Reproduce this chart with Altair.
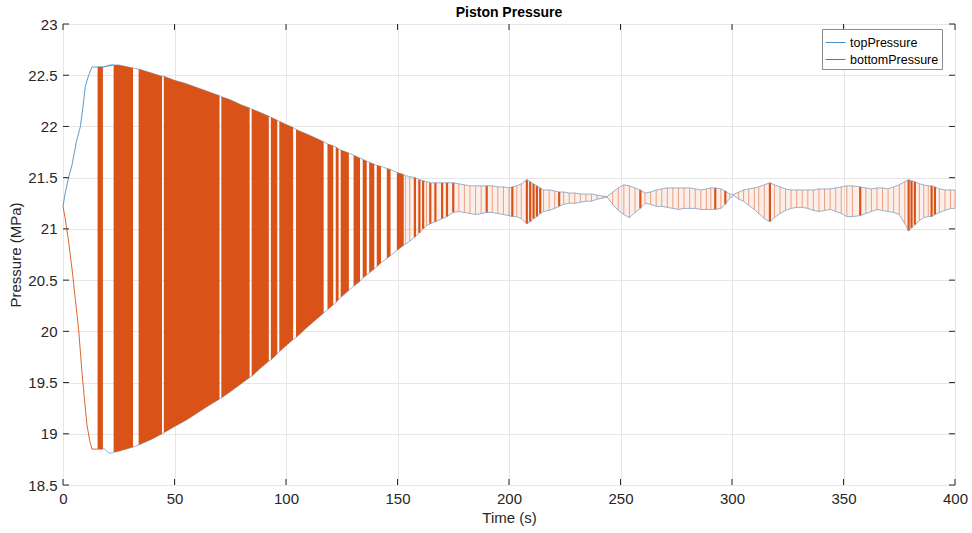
import altair as alt
import pandas as pd

FONT = "Liberation Sans"
BLUE = "#0072BD"
ORANGE = "#D95319"
EDGE = "#7f9fc4"
INK = "#262626"
W, H = 892, 461

title_text = "Piston Pressure"
x_title = "Time (s)"
y_title = "Pressure (MPa)"
series_names = ["topPressure", "bottomPressure"]
x_ticks = [0, 50, 100, 150, 200, 250, 300, 350, 400]
y_ticks = [18.5, 19, 19.5, 20, 20.5, 21, 21.5, 22, 22.5, 23]

# start-up transient (before the oscillation band)
top_init_t = [0, 1, 2.5, 4, 6, 7.8, 9, 10, 11.5, 13, 15.5, 18.2, 19.7, 21.2, 22.7]
top_init_v = [21.22, 21.35, 21.5, 21.62, 21.85, 22.0, 22.2, 22.39, 22.5, 22.58,
              22.58, 22.58, 22.59, 22.6, 22.6]
bot_init_t = [0, 1, 2.5, 4, 5.5, 7, 8.5, 10, 10.8, 12, 13, 15.5]
bot_init_v = [21.22, 21.1, 20.88, 20.62, 20.32, 20.02, 19.6, 19.25, 19.08, 18.93,
              18.85, 18.85]

# lower edge visible inside the first gap
dip_t = [18.2, 20.5, 22.0]
dip_lo = [18.86, 18.815, 18.81]

# dense oscillation blocks (segment id, time, upper, lower)
dense_seg = [1, 1, 2, 2, 2, 3, 3, 3, 4, 4, 4, 4, 4, 4, 5, 5, 5, 5, 6, 6, 6, 7, 7,
             8, 8, 8, 9, 9, 9, 10, 10, 11, 11, 12, 12, 13, 13, 14, 14, 15, 15,
             16, 16, 17, 17, 18, 18]
dense_t = [15.5, 17.9, 22.7, 25, 31.4, 33.9, 40, 44.4, 45.2, 50, 55, 60, 65, 70.2,
           71.0, 75, 80, 83.7, 84.6, 88, 92.3, 93.2, 96.1, 97.0, 100, 103.2,
           104.5, 110, 116.9, 118.6, 121.2, 122.3, 123.6, 124.5, 128.2, 130.3,
           133.2, 134.4, 136.2, 137.3, 139.6, 140.7, 142.6, 145.2, 146.9, 149.7,
           152.8]
dense_hi = [22.58, 22.58, 22.60, 22.60, 22.57, 22.56, 22.52, 22.49, 22.49, 22.45,
            22.42, 22.38, 22.34, 22.30, 22.29, 22.26, 22.21, 22.18, 22.17, 22.14,
            22.10, 22.09, 22.06, 22.05, 22.02, 21.99, 21.97, 21.92, 21.85, 21.83,
            21.81, 21.80, 21.78, 21.77, 21.74, 21.72, 21.69, 21.68, 21.66, 21.65,
            21.63, 21.62, 21.61, 21.59, 21.58, 21.55, 21.53]
dense_lo = [18.85, 18.85, 18.82, 18.83, 18.87, 18.89, 18.95, 19.00, 19.01, 19.07,
            19.13, 19.20, 19.27, 19.34, 19.35, 19.41, 19.49, 19.55, 19.56, 19.63,
            19.71, 19.72, 19.78, 19.80, 19.86, 19.92, 19.94, 20.05, 20.18, 20.21,
            20.26, 20.28, 20.31, 20.33, 20.40, 20.44, 20.49, 20.52, 20.55, 20.57,
            20.61, 20.63, 20.67, 20.71, 20.74, 20.79, 20.84]

# settled, sparse oscillation strokes
sp_t = [153.5, 155.5, 157.8, 159.8, 161.5, 163.0, 164.7, 167.0, 170.0, 172.2,
        175.0, 177.5, 180.0, 182.5, 185.0, 187.5, 190.0, 192.5, 195.0, 197.5,
        200.0, 201.5, 203.5, 205.5, 208.0, 209.5, 211.0, 212.5, 214.0, 215.5,
        218.0, 220.5, 222.5, 224.5, 227.0, 229.5, 232.0, 234.5, 237.0, 239.5,
        242.0, 244.0, 246.5, 249.0, 251.5, 254.0, 256.5, 258.9, 261.0, 263.5,
        266.0, 268.5, 271.0, 273.5, 276.0, 278.5, 281.0, 283.5, 286.0, 288.5,
        290.5, 292.5, 295.0, 297.0, 299.0, 300.8, 303.0, 305.2, 307.5, 310.0,
        312.0, 314.5, 317.0, 319.0, 321.5, 324.0, 326.5, 329.0, 331.5, 334.0,
        336.5, 339.0, 341.5, 344.0, 346.5, 349.0, 351.5, 354.0, 357.5, 360.0,
        362.5, 365.0, 367.5, 370.0, 372.5, 375.0, 377.5, 379.2, 380.5, 382.0,
        384.0, 386.0, 388.0, 389.5, 391.0, 393.0, 395.5, 398.0, 400.0]
sp_hi = [21.52, 21.51, 21.50, 21.48, 21.47, 21.46, 21.45, 21.45, 21.45, 21.45,
         21.45, 21.44, 21.43, 21.42, 21.42, 21.42, 21.42, 21.42, 21.41, 21.41,
         21.40, 21.41, 21.42, 21.44, 21.48, 21.46, 21.44, 21.42, 21.40, 21.38,
         21.38, 21.37, 21.36, 21.36, 21.35, 21.35, 21.34, 21.34, 21.34, 21.33,
         21.32, 21.315, 21.36, 21.40, 21.43, 21.42, 21.40, 21.38, 21.35, 21.36,
         21.38, 21.39, 21.40, 21.40, 21.40, 21.40, 21.40, 21.39, 21.38, 21.39,
         21.40, 21.40, 21.39, 21.37, 21.34, 21.335, 21.36, 21.38, 21.39, 21.40,
         21.41, 21.43, 21.45, 21.43, 21.41, 21.39, 21.38, 21.38, 21.38, 21.38,
         21.38, 21.39, 21.39, 21.39, 21.40, 21.41, 21.42, 21.42, 21.41, 21.40,
         21.39, 21.40, 21.40, 21.39, 21.41, 21.43, 21.46, 21.48, 21.47, 21.46,
         21.44, 21.43, 21.42, 21.42, 21.41, 21.39, 21.38, 21.38, 21.38]
sp_lo = [20.85, 20.88, 20.92, 20.96, 21.00, 21.03, 21.05, 21.07, 21.10, 21.12,
         21.16, 21.17, 21.16, 21.15, 21.14, 21.15, 21.16, 21.16, 21.15, 21.14,
         21.13, 21.12, 21.12, 21.10, 21.05, 21.07, 21.10, 21.12, 21.15, 21.17,
         21.18, 21.20, 21.22, 21.24, 21.25, 21.25, 21.26, 21.27, 21.27, 21.29,
         21.30, 21.31, 21.24, 21.18, 21.14, 21.11, 21.16, 21.20, 21.25, 21.24,
         21.22, 21.22, 21.21, 21.20, 21.19, 21.20, 21.20, 21.20, 21.19, 21.19,
         21.19, 21.19, 21.20, 21.24, 21.30, 21.325, 21.29, 21.27, 21.23, 21.19,
         21.15, 21.10, 21.07, 21.11, 21.15, 21.18, 21.20, 21.21, 21.21, 21.20,
         21.18, 21.17, 21.18, 21.19, 21.17, 21.15, 21.12, 21.12, 21.13, 21.15,
         21.17, 21.19, 21.18, 21.17, 21.16, 21.14, 21.05, 20.98, 21.01, 21.04,
         21.08, 21.11, 21.12, 21.12, 21.14, 21.16, 21.18, 21.20, 21.20]
sp_dark = [0, 0, 1, 1, 1, 0, 1, 1, 1, 1,
           1, 0, 0, 0, 0, 0, 1, 0, 0, 0,
           0, 1, 0, 0, 1, 1, 1, 1, 1, 0,
           0, 0, 1, 0, 0, 0, 0, 0, 0, 0,
           0, 0, 0, 0, 0, 0, 0, 1, 0, 0,
           0, 0, 0, 0, 0, 0, 0, 0, 0, 0,
           0, 1, 0, 1, 0, 0, 0, 0, 0, 0,
           0, 0, 1, 0, 0, 0, 0, 0, 0, 0,
           0, 0, 0, 0, 0, 0, 0, 0, 1, 0,
           0, 0, 0, 0, 0, 0, 0, 1, 1, 1,
           0, 0, 0, 1, 1, 0, 0, 0, 0]

# ---- tables ----
init_df = pd.DataFrame({
    "t": top_init_t + bot_init_t,
    "v": top_init_v + bot_init_v,
    "series": [series_names[0]] * len(top_init_t) + [series_names[1]] * len(bot_init_t),
})
dense_df = pd.DataFrame({"seg": dense_seg, "t": dense_t, "hi": dense_hi, "lo": dense_lo})
sparse_df = pd.DataFrame({"t": sp_t, "hi": sp_hi, "lo": sp_lo, "dark": sp_dark})
edge_df = pd.concat([dense_df[["t", "hi", "lo"]], sparse_df[["t", "hi", "lo"]]]).sort_values("t")
low_edge = pd.concat([edge_df[["t", "lo"]], pd.DataFrame({"t": dip_t, "lo": dip_lo})]).sort_values("t")
xt_df = pd.DataFrame({"tick": x_ticks})
yt_df = pd.DataFrame({"tick": y_ticks})

xs = alt.Scale(domain=[0, 400], nice=False, zero=False)
ys = alt.Scale(domain=[18.5, 23], nice=False, zero=False)
xaxis = alt.Axis(title=x_title, values=x_ticks, grid=True, gridColor="#e6e6e6",
                 domain=False, ticks=False, labelPadding=6, labelFontSize=15,
                 labelFont=FONT, labelColor=INK, titleFont=FONT, titleFontSize=15,
                 titleFontWeight="normal", titleColor=INK, titlePadding=4,
                 labelFlush=False)
yaxis = alt.Axis(title=y_title, values=y_ticks, grid=True, gridColor="#e6e6e6",
                 domain=False, ticks=False, labelPadding=6, labelFontSize=15,
                 labelFont=FONT, labelColor=INK, titleFont=FONT, titleFontSize=15,
                 titleFontWeight="normal", titleColor=INK, titlePadding=4,
                 labelFlush=False, labelExpr="'' + datum.value")


def X(field):
    return alt.X(field, type="quantitative", scale=xs, axis=xaxis)


def Y(field):
    return alt.Y(field, type="quantitative", scale=ys, axis=yaxis)


pale = alt.Chart(sparse_df).mark_area(color=ORANGE, opacity=0.09).encode(
    x=X("t"), y=Y("hi"), y2="lo")
light = alt.Chart(sparse_df).transform_filter("datum.dark == 0").mark_rule(
    color=ORANGE, opacity=0.5, strokeWidth=1).encode(x=X("t"), y=Y("lo"), y2="hi")
dark = alt.Chart(sparse_df).transform_filter("datum.dark == 1").mark_rule(
    color=ORANGE, opacity=1, strokeWidth=2.2).encode(x=X("t"), y=Y("lo"), y2="hi")
edge_top = alt.Chart(edge_df).mark_line(color=EDGE, strokeWidth=0.8).encode(
    x=X("t"), y=Y("hi"))
edge_bot = alt.Chart(low_edge).mark_line(color=EDGE, strokeWidth=0.8).encode(
    x=X("t"), y=Y("lo"))
dense = alt.Chart(dense_df).mark_area(color=ORANGE, opacity=1).encode(
    x=X("t"), y=Y("hi"), y2="lo", detail="seg:N")
init = alt.Chart(init_df).mark_line(strokeWidth=0.9).encode(
    x=X("t"), y=Y("v"),
    color=alt.Color("series:N",
                    scale=alt.Scale(domain=series_names, range=["#4a90c8", ORANGE]),
                    legend=alt.Legend(title=None, orient="none", legendX=759, legendY=5,
                                      symbolType="stroke", symbolSize=400,
                                      symbolStrokeWidth=1, labelFontSize=12.5,
                                      labelFont=FONT, labelColor="#000",
                                      strokeColor="#8c8c8c", fillColor="white",
                                      padding=3, rowPadding=-2, labelOffset=4)))

tick_b = alt.Chart(xt_df).mark_rule(color=INK, strokeWidth=1).encode(
    x=X("tick"), y=alt.value(H), y2=alt.value(H - 6))
tick_t = alt.Chart(xt_df).mark_rule(color=INK, strokeWidth=1).encode(
    x=X("tick"), y=alt.value(0), y2=alt.value(6))
tick_l = alt.Chart(yt_df).mark_rule(color=INK, strokeWidth=1).encode(
    y=Y("tick"), x=alt.value(0), x2=alt.value(6))
tick_r = alt.Chart(yt_df).mark_rule(color=INK, strokeWidth=1).encode(
    y=Y("tick"), x=alt.value(W), x2=alt.value(W - 6))

chart = alt.layer(pale, light, dark, edge_top, edge_bot, dense, init,
                  tick_b, tick_t, tick_l, tick_r).properties(
    width=W, height=H,
    title=alt.TitleParams(title_text, font=FONT, fontSize=14, fontWeight="bold",
                          color="#000", offset=-3, anchor="middle"),
    padding={"left": 63, "top": 24, "right": 17, "bottom": 48},
    autosize=alt.AutoSizeParams(type="none"),
).configure_view(stroke=INK, strokeWidth=1).configure(background="white")

chart.save("out.html", embed_options={"renderer": "svg", "actions": False})
